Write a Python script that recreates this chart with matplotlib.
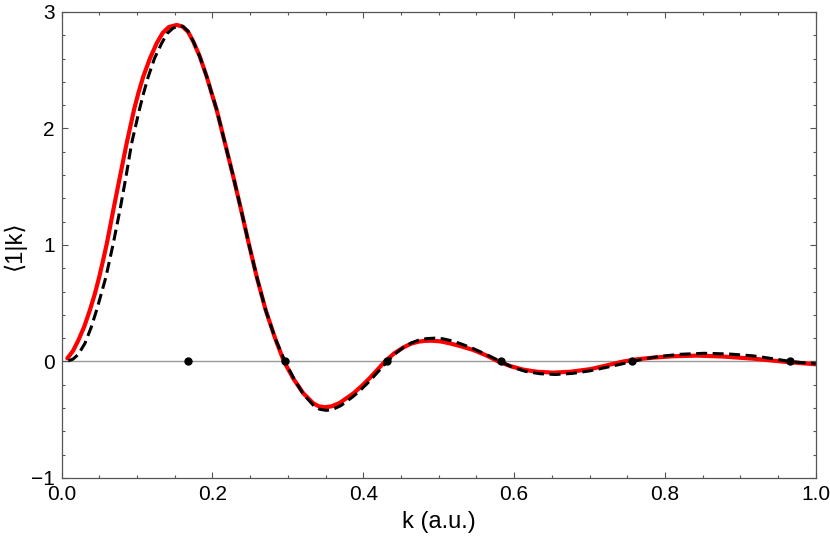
import numpy as np
import matplotlib
matplotlib.use("Agg")
import matplotlib.pyplot as plt
from matplotlib.ticker import MultipleLocator, FormatStrFormatter

plt.rcParams['font.family'] = ['Liberation Sans', 'DejaVu Sans']

# red solid curve
red_k = [0.0075, 0.015, 0.022, 0.030, 0.0375, 0.044, 0.050, 0.055, 0.060,
         0.0685, 0.0773, 0.0862, 0.0959, 0.102, 0.1082, 0.117, 0.126, 0.134,
         0.142, 0.1525, 0.160, 0.1675, 0.1746, 0.183, 0.1923, 0.199, 0.2056,
         0.2166, 0.2276, 0.238, 0.248, 0.2586, 0.2705, 0.283, 0.2948,
         0.3075, 0.3204, 0.3337, 0.341, 0.3492, 0.358, 0.369, 0.3867, 0.398,
         0.4089, 0.4188, 0.4288, 0.441, 0.4531, 0.4635, 0.4735, 0.482, 0.490,
         0.5017, 0.515, 0.528, 0.546, 0.562, 0.579, 0.595, 0.612, 0.630,
         0.652, 0.675, 0.701, 0.722, 0.745, 0.765, 0.785, 0.812, 0.842,
         0.875, 0.917, 0.945, 0.966, 1.0]
red_val = [0.027, 0.09, 0.18, 0.30, 0.442, 0.58, 0.73, 0.87, 1.015,
           1.30, 1.586, 1.873, 2.159, 2.31, 2.445, 2.60, 2.731, 2.82,
           2.87, 2.888, 2.875, 2.83, 2.745, 2.62, 2.445, 2.30, 2.159,
           1.873, 1.586, 1.30, 1.015, 0.728, 0.442, 0.20, 0.0,
           -0.15, -0.273, -0.359, -0.385, -0.393, -0.385, -0.355, -0.275, -0.21,
           -0.14, -0.07, 0.0, 0.07, 0.12, 0.153, 0.170, 0.177, 0.178,
           0.173, 0.155, 0.133, 0.098, 0.055, 0.0, -0.04, -0.07, -0.088,
           -0.096, -0.088, -0.066, -0.035, 0.0, 0.02, 0.033, 0.045, 0.05,
           0.043, 0.024, 0.006, -0.007, -0.024]

# black dashed curve
blk_k = [0.0088, 0.015, 0.022, 0.0309, 0.039, 0.0464, 0.0525, 0.0588, 0.0685,
         0.0773, 0.0853, 0.0928, 0.103, 0.1085, 0.1149, 0.123, 0.1326, 0.140,
         0.1475, 0.1547, 0.161, 0.1675, 0.1746, 0.183, 0.1923, 0.199, 0.2056,
         0.2166, 0.2276, 0.238, 0.248, 0.2586, 0.2705, 0.283, 0.2962,
         0.309, 0.3204, 0.3337, 0.342, 0.351, 0.360, 0.370, 0.3867, 0.398,
         0.4089, 0.420, 0.432, 0.443, 0.4531, 0.464, 0.4735, 0.484, 0.495,
         0.505, 0.517, 0.530, 0.546, 0.564, 0.582, 0.598, 0.615, 0.634,
         0.655, 0.678, 0.701, 0.730, 0.757, 0.775, 0.795, 0.822, 0.852,
         0.885, 0.917, 0.945, 0.966, 0.985, 1.0]
blk_val = [0.005, 0.02, 0.06, 0.156, 0.29, 0.442, 0.58, 0.728, 1.015,
           1.30, 1.586, 1.873, 2.159, 2.30, 2.445, 2.60, 2.731, 2.815,
           2.86, 2.88, 2.875, 2.835, 2.745, 2.62, 2.445, 2.30, 2.159,
           1.873, 1.586, 1.30, 1.015, 0.728, 0.442, 0.20, 0.0,
           -0.16, -0.28, -0.375, -0.41, -0.42, -0.41, -0.38, -0.30, -0.235,
           -0.165, -0.085, 0.0, 0.07, 0.12, 0.16, 0.183, 0.196, 0.200,
           0.195, 0.178, 0.150, 0.11, 0.057, 0.0, -0.05, -0.085, -0.105,
           -0.112, -0.102, -0.08, -0.04, 0.0, 0.025, 0.045, 0.062, 0.070,
           0.064, 0.048, 0.022, 0.0, -0.012, -0.02]

# black dots on the zero line
dot_k = [0.168, 0.296, 0.432, 0.582, 0.757, 0.966]
dot_val = [0, 0, 0, 0, 0, 0]

fig = plt.figure(figsize=(8.3, 5.41), dpi=100)
ax = fig.add_axes([0.0743, 0.1165, 0.9085, 0.8615])

ax.axhline(0, color='#999999', lw=1.0, zorder=1)
ax.plot(red_k, red_val, color='#ff0000', lw=3.0, solid_joinstyle='round',
        solid_capstyle='round', zorder=2)
ax.plot(blk_k, blk_val, color='black', lw=2.2, dashes=(3.6, 1.8),
        dash_joinstyle='round', zorder=3)
ax.plot(dot_k, dot_val, 'o', color='black', ms=5, zorder=4)

ax.set_xlim(0, 1)
ax.set_ylim(-1, 3)
ax.xaxis.set_major_locator(MultipleLocator(0.2))
ax.xaxis.set_minor_locator(MultipleLocator(0.05))
ax.yaxis.set_major_locator(MultipleLocator(1))
ax.yaxis.set_minor_locator(MultipleLocator(0.2))
ax.xaxis.set_major_formatter(FormatStrFormatter('%.1f'))

ax.tick_params(which='both', direction='in', top=True, right=True,
               color='#555555', labelsize=15, width=0.8)
ax.tick_params(which='major', length=4.5, pad=5)
ax.tick_params(which='minor', length=2.5)
for s in ax.spines.values():
    s.set_color('#555555')
    s.set_linewidth(0.9)

ax.set_xlabel('k (a.u.)', fontsize=17, labelpad=5)
ax.set_ylabel('⟨1|k⟩', fontsize=17)
ax.yaxis.set_label_coords(-0.047, 0.5)

fig.savefig('out.png', dpi=100)
